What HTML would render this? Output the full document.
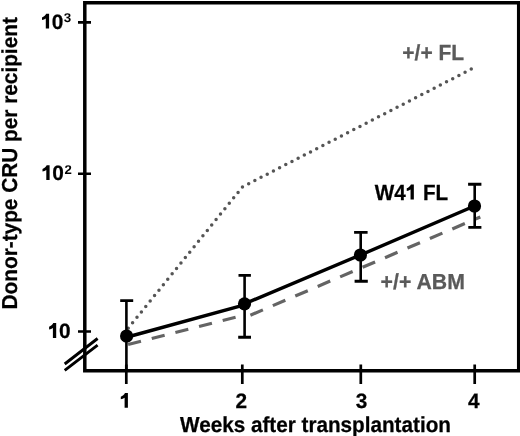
<!DOCTYPE html>
<html>
<head>
<meta charset="utf-8">
<style>
html,body{margin:0;padding:0;background:#fff;}
body{width:520px;height:436px;overflow:hidden;position:relative;}
svg{position:absolute;left:0;top:0;will-change:transform;}
text{font-family:"Liberation Sans", sans-serif;font-weight:bold;text-rendering:geometricPrecision;}
</style>
</head>
<body>
<svg width="520" height="436" viewBox="0 0 520 436">
  <defs>
  </defs>
  <path d="M84.8 2.75 H518.7 V370.8 H84.8 Z" fill="none" stroke="#000" stroke-width="3.5"/>
  <path d="M78 22.4 H91 M78 173.8 H91 M78 331.5 H91" stroke="#000" stroke-width="2.6"/>
  <path d="M126.3 364.5 V384 M242.3 364.5 V384 M360.8 364.5 V384 M474.7 364.5 V384" stroke="#000" stroke-width="2.7"/>
  <path d="M64.7 364 L97.6 338.5 M64.7 370.3 L97.6 345.1" stroke="#000" stroke-width="2.9"/>
  <path d="M128.2,328.2 L242.5,186.9" fill="none" stroke="#555" stroke-width="3.5" stroke-linecap="round" stroke-dasharray="0 6.988"/>
  <path d="M248.68,183.72 L471.3,69.1" fill="none" stroke="#555" stroke-width="3.5" stroke-linecap="round" stroke-dasharray="0 6.954"/>
  <path d="M128.1,344.5 L244,315.06" fill="none" stroke="#646464" stroke-width="3.2" stroke-dasharray="13.3 11.1"/>
  <path d="M250.4,315.2 L480.3,216.96" fill="none" stroke="#646464" stroke-width="3.2" stroke-dasharray="13.6 10.8"/>
  <path d="M126.5,337.2 L244.5,304.9 M244.5,303.8 L360.4,255 L474.5,206" fill="none" stroke="#000" stroke-width="3.5"/>
  <g stroke="#000" stroke-width="2.6" fill="none">
    <path d="M126.4 300.5 V371 M244.6 275.3 V337.3 M360.7 232.4 V281.2 M474.7 184.3 V227.4"/>
  </g>
  <g stroke="#000" stroke-width="2.9" fill="none">
    <path d="M120.2 300.6 H133.2 M238.5 275.4 H250.9 M238.2 337.3 H251 M354.1 232.4 H367.6 M354.6 281.2 H367.8 M468.1 184.3 H481.4 M468.3 227.4 H481.4"/>
  </g>
  <g fill="#000">
    <circle cx="126.6" cy="336" r="6.6"/>
    <circle cx="244.5" cy="303.8" r="6.6"/>
    <circle cx="360.4" cy="255" r="6.6"/>
    <circle cx="474.5" cy="206" r="6.6"/>
  </g>
  <path transform="translate(49,28.6) scale(1,1.0)" d="M0.1,-14.8 L0.1,0 L-3.2,0 L-3.2,-10.0 C-4.3,-9.2 -5.6,-8.8 -7.0,-8.5 L-7.0,-11.1 C-5.2,-11.7 -3.7,-13 -2.8,-14.8 Z" fill="#000"/>
  <text transform="translate(51.65,28.6) scale(1.0,1.0)" font-size="20.8" fill="#000" stroke="#000" stroke-width="0.25">0</text>
  <text transform="translate(63.8,21.7) scale(1.06,1.0)" font-size="12.7" fill="#000">3</text>
  <path transform="translate(49.5,180.1) scale(1,1.0)" d="M0.1,-14.8 L0.1,0 L-3.2,0 L-3.2,-10.0 C-4.3,-9.2 -5.6,-8.8 -7.0,-8.5 L-7.0,-11.1 C-5.2,-11.7 -3.7,-13 -2.8,-14.8 Z" fill="#000"/>
  <text transform="translate(52.3,180.3) scale(1.0,1.0)" font-size="20.8" fill="#000" stroke="#000" stroke-width="0.25">0</text>
  <text transform="translate(64.5,173.8) scale(1.04,1.0)" font-size="12.7" fill="#000">2</text>
  <path transform="translate(56.1,337.9) scale(1,1.0)" d="M0.1,-14.8 L0.1,0 L-3.2,0 L-3.2,-10.0 C-4.3,-9.2 -5.6,-8.8 -7.0,-8.5 L-7.0,-11.1 C-5.2,-11.7 -3.7,-13 -2.8,-14.8 Z" fill="#000"/>
  <text transform="translate(59.1,338.2) scale(1.0,1.0)" font-size="20.8" fill="#000" stroke="#000" stroke-width="0.25">0</text>
  <path transform="translate(127.8,407.8) scale(1,1.0)" d="M0.1,-14.8 L0.1,0 L-3.2,0 L-3.2,-10.0 C-4.3,-9.2 -5.6,-8.8 -7.0,-8.5 L-7.0,-11.1 C-5.2,-11.7 -3.7,-13 -2.8,-14.8 Z" fill="#000"/>
  <text transform="translate(235.4,408.3) scale(1.0,1.0)" font-size="20.8" fill="#000" stroke="#000" stroke-width="0.25">2</text>
  <text transform="translate(355.8,408.3) scale(1.0,1.0)" font-size="20.8" fill="#000" stroke="#000" stroke-width="0.25">3</text>
  <text transform="translate(468,408.3) scale(1.0,1.0)" font-size="20.8" fill="#000" stroke="#000" stroke-width="0.25">4</text>
  <text transform="translate(180,431.5) scale(1.0,1.05)" font-size="20.7" fill="#000" stroke="#000" stroke-width="0.25">Weeks after transplantation</text>
  <text transform="translate(17,309.5) rotate(-90) scale(1,1.04)" font-size="20.8" stroke="#000" stroke-width="0.25">Donor-type CRU per recipient</text>
  <text transform="translate(402.3,60.0) scale(1.0,1.04)" font-size="21" fill="#5a5a5a" stroke="#5a5a5a" stroke-width="0.25">+/+ FL</text>
  <text transform="translate(374.8,199.6) scale(0.982,1.045)" font-size="21" fill="#000" stroke="#000" stroke-width="0.25">W4</text>
  <path transform="translate(413.75,199.6) scale(1,1.015)" d="M0.1,-14.8 L0.1,0 L-3.2,0 L-3.2,-10.0 C-4.3,-9.2 -5.6,-8.8 -7.0,-8.5 L-7.0,-11.1 C-5.2,-11.7 -3.7,-13 -2.8,-14.8 Z" fill="#000"/>
  <text transform="translate(422.9,199.6) scale(0.982,1.045)" font-size="21" fill="#000" stroke="#000" stroke-width="0.25">FL</text>
  <text transform="translate(380.6,288.6) scale(1.012,1.035)" font-size="21" fill="#5a5a5a" stroke="#5a5a5a" stroke-width="0.25">+/+ ABM</text>
</svg>
</body>
</html>
